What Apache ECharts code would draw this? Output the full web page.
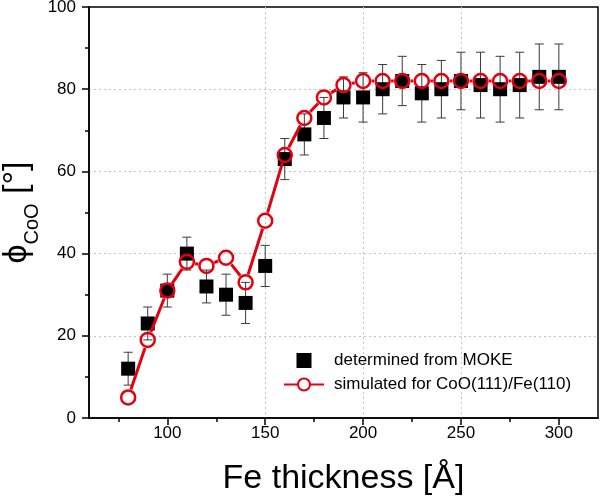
<!DOCTYPE html>
<html>
<head>
<meta charset="utf-8">
<script src="https://cdn.jsdelivr.net/npm/echarts@6/dist/echarts.min.js"></script>
<style>
html,body{margin:0;padding:0;background:#fff;}
#chart{width:600px;height:497px;}
</style>
</head>
<body>
<div id="chart"></div>
<script>
// ---- data ----
const thickness = [80, 90, 100, 110, 120, 130, 140, 150, 160, 170, 180, 190, 200, 210, 220, 230, 240, 250, 260, 270, 280, 290, 300];
const mokeAngle = [12, 23, 31, 40, 32, 30, 28, 37, 63, 69, 73, 78, 78, 80, 82, 79, 80, 82, 81, 80, 81, 83, 83];
const mokeError = [4, 4, 4, 4, 4, 5, 5, 5, 5, 5, 5, 5, 6, 6, 6, 7, 7, 7, 8, 8, 8, 8, 8];
const simAngle  = [5, 19, 31, 38, 37, 39, 33, 48, 64, 73, 78, 81, 82, 82, 82, 82, 82, 82, 82, 82, 82, 82, 82];
const xMajorTicks = [100, 150, 200, 250, 300];
const xMinorTicks = [75, 125, 175, 225, 275];
const yTicks = [0, 20, 40, 60, 80, 100];
const mokeName = 'determined from MOKE';
const simName = 'simulated for CoO(111)/Fe(110)';

const RED = '#e3000f';
const FONT = 'Liberation Sans, Arial, sans-serif';

const errData = thickness.map((t, i) => [t, mokeAngle[i] - mokeError[i], mokeAngle[i] + mokeError[i]]);
const mokeData = thickness.map((t, i) => [t, mokeAngle[i]]);
const simData = thickness.map((t, i) => [t, simAngle[i]]);
const segData = thickness.slice(0, -1).map((t, i) => [t, simAngle[i], thickness[i + 1], simAngle[i + 1]]);

function renderErr(params, api) {
  const x = api.value(0);
  const pLo = api.coord([x, api.value(1)]);
  const pHi = api.coord([x, api.value(2)]);
  const hw = 4.5;
  const st = { stroke: '#3a3a3a', lineWidth: 1 };
  return {
    type: 'group',
    children: [
      { type: 'line', shape: { x1: pLo[0], y1: pLo[1], x2: pHi[0], y2: pHi[1] }, style: st },
      { type: 'line', shape: { x1: pLo[0] - hw, y1: pLo[1], x2: pLo[0] + hw, y2: pLo[1] }, style: st },
      { type: 'line', shape: { x1: pHi[0] - hw, y1: pHi[1], x2: pHi[0] + hw, y2: pHi[1] }, style: st }
    ]
  };
}

function renderSeg(params, api) {
  const p0 = api.coord([api.value(0), api.value(1)]);
  const p1 = api.coord([api.value(2), api.value(3)]);
  const dx = p1[0] - p0[0], dy = p1[1] - p0[1];
  const d = Math.sqrt(dx * dx + dy * dy);
  const r = 8.5;
  if (d <= 2 * r) return { type: 'group', children: [] };
  const ux = dx / d, uy = dy / d;
  return {
    type: 'line',
    shape: { x1: p0[0] + ux * r, y1: p0[1] + uy * r, x2: p1[0] - ux * r, y2: p1[1] - uy * r },
    style: { stroke: RED, lineWidth: 3 }
  };
}

const chart = echarts.init(document.getElementById('chart'), null, { renderer: 'canvas' });
chart.setOption({
  animation: false,
  backgroundColor: '#fff',
  grid: { left: 89, right: 2, top: 7, bottom: 79, containLabel: false, outerBoundsMode: 'none', show: true, borderColor: '#000', borderWidth: 1.5, backgroundColor: 'transparent' },
  legend: {
    orient: 'vertical',
    left: 278,
    top: 347,
    itemWidth: 40,
    itemHeight: 15,
    itemGap: 7,
    symbolKeepAspect: true,
    textStyle: { fontFamily: FONT, fontSize: 17, color: '#000', padding: [0, 0, 0, 5] },
    data: [
      { name: mokeName, icon: 'path://M0,0L10,0L10,10L0,10Z', itemStyle: { color: '#000', opacity: 1 } },
      { name: simName }
    ]
  },
  xAxis: [{
    type: 'value',
    min: 60,
    max: 320,
    position: 'bottom',
    name: 'Fe thickness [Å]',
    nameLocation: 'middle',
    nameGap: 44,
    nameMoveOverlap: false,
    nameTextStyle: { fontFamily: FONT, fontSize: 34, color: '#000' },
    axisLine: { show: true, onZero: false, lineStyle: { color: '#000', width: 1.5 } },
    axisTick: { show: true, inside: false, length: 7, lineStyle: { color: '#000', width: 1.5 }, customValues: xMajorTicks },
    axisLabel: { show: true, margin: 7, fontFamily: FONT, fontSize: 17, color: '#000', customValues: xMajorTicks },
    splitLine: { show: true, showMinLine: false, showMaxLine: false, lineStyle: { color: '#c4c4c4', width: 1, type: [2, 3] } }
  }, {
    type: 'value',
    min: 60,
    max: 320,
    position: 'bottom',
    axisLine: { show: false, onZero: false },
    axisTick: { show: true, inside: false, length: 4, lineStyle: { color: '#000', width: 1.5 }, customValues: xMinorTicks },
    axisLabel: { show: false },
    splitLine: { show: false }
  }],
  yAxis: {
    type: 'value',
    min: yTicks[0],
    max: yTicks[yTicks.length - 1],
    interval: 20,
    name: '{a|ϕ}{b|CoO}{a| [°]}',
    nameLocation: 'middle',
    nameGap: 47,
    nameMoveOverlap: false,
    nameTextStyle: {
      fontFamily: FONT,
      color: '#000',
      rich: {
        a: { fontFamily: FONT, fontSize: 34, lineHeight: 50, color: '#000' },
        b: { fontFamily: FONT, fontSize: 20, lineHeight: 20, verticalAlign: 'bottom', color: '#000' }
      }
    },
    axisLine: { show: true, onZero: false, lineStyle: { color: '#000', width: 1.5 } },
    axisTick: { show: true, inside: false, length: 7, lineStyle: { color: '#000', width: 1.5 } },
    minorTick: { show: true, splitNumber: 2, length: 4, lineStyle: { color: '#000', width: 1.5 } },
    axisLabel: { show: true, margin: 13, fontFamily: FONT, fontSize: 17, color: '#000' },
    splitLine: { show: true, showMinLine: false, showMaxLine: false, lineStyle: { color: '#c4c4c4', width: 1, type: [2, 3] } }
  },
  series: [
    {
      type: 'custom',
      name: 'err',
      renderItem: renderErr,
      data: errData,
      encode: { x: 0, y: [1, 2] },
      z: 2,
      silent: true
    },
    {
      type: 'scatter',
      name: mokeName,
      data: mokeData,
      symbol: 'rect',
      symbolSize: 14,
      itemStyle: { color: '#000', opacity: 1 },
      z: 3,
      silent: true
    },
    {
      type: 'custom',
      name: 'seg',
      renderItem: renderSeg,
      data: segData,
      encode: { x: [0, 2], y: [1, 3] },
      z: 4,
      silent: true
    },
    {
      type: 'scatter',
      name: 'simCircles',
      data: simData,
      symbol: 'circle',
      symbolSize: 14,
      itemStyle: { color: 'rgba(0,0,0,0)', borderColor: RED, borderWidth: 2.5, opacity: 1 },
      z: 5,
      silent: true
    },
    {
      type: 'line',
      name: simName,
      data: [],
      symbol: 'emptyCircle',
      itemStyle: { color: RED },
      lineStyle: { color: RED, width: 3 },
      z: 1
    }
  ]
});
</script>
</body>
</html>
